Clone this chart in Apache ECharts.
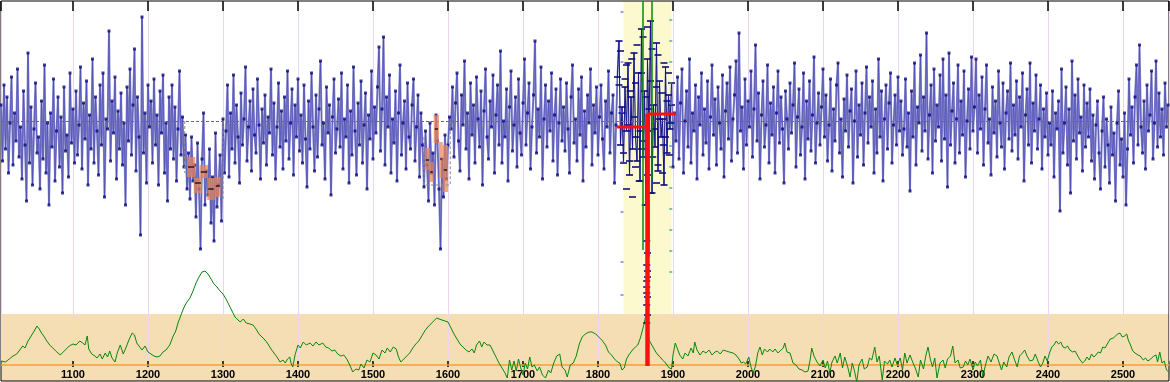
<!DOCTYPE html>
<html><head><meta charset="utf-8">
<script src="https://cdn.jsdelivr.net/npm/echarts@6/dist/echarts.min.js"></script>
<style>html,body{margin:0;padding:0;background:#fff}#c{width:1170px;height:382px}</style>
</head><body><div id="c"></div>
<script>
// ---- ring-width index, one value every 2 years from 1004 ----
const startYear = 1004, yearStep = 2;
const mainValues = [
108,80,118,86,112,74,99,122,78,104,90,126,82,97,71,115,88,60,134,79,107,68,96,119,84,
92,66,110,81,128,74,99,58,104,87,121,70,95,112,77,102,64,117,85,93,72,124,89,106,79,
115,83,98,127,76,109,91,120,68,103,86,131,79,112,95,73,118,88,124,62,101,96,145,80,110,
94,122,71,105,86,114,78,99,58,117,90,126,83,108,136,75,112,92,43,152,84,104,69,118,97,
110,79,121,88,103,68,115,94,123,74,99,60,112,86,118,81,107,70,96,125,83,102,77,93,66,
84,61,92,70,78,52,89,66,36,81,104,58,75,63,86,49,72,40,94,57,68,83,50,101,74,
95,118,72,104,86,123,79,108,92,69,114,88,101,127,80,97,110,75,116,93,84,121,98,71,106,
89,113,78,102,94,126,83,109,71,97,119,87,105,76,112,90,125,81,99,116,73,108,92,121,85,
103,79,118,91,67,110,86,124,97,75,113,82,106,130,88,99,71,117,94,108,63,102,121,84,96,
111,87,124,76,101,92,118,69,105,83,127,95,73,109,88,120,79,98,114,66,103,91,125,81,107,
94,117,137,85,106,142,78,112,97,123,74,101,89,115,70,104,128,83,99,110,76,119,92,86,108,
121,80,97,113,72,104,88,67,95,78,60,99,74,84,58,103,90,66,36,81,62,93,71,88,102,
96,117,82,109,124,90,75,113,98,130,86,104,71,119,93,108,79,122,101,87,115,68,105,126,92,
81,110,97,123,74,103,118,88,135,79,100,92,116,70,107,125,85,98,112,77,121,94,83,109,131,
88,104,119,76,97,113,140,84,106,92,127,71,101,118,87,110,95,124,80,103,116,73,99,121,90,
107,85,119,96,74,112,128,89,101,80,116,93,122,70,105,87,113,99,126,78,108,94,117,83,102,
118,91,76,110,97,125,84,104,113,69,98,122,140,88,107,79,117,95,129,73,112,86,134,92,80,
124,70,146,82,115,58,131,95,150,64,108,87,139,75,120,92,101,68,127,84,113,96,119,77,104,
90,122,81,109,126,74,100,115,87,131,79,104,95,118,71,112,98,124,83,106,89,120,76,102,128,
93,111,78,117,99,86,123,72,105,119,91,127,80,101,113,130,84,144,95,107,76,121,88,110,97,
125,82,106,138,90,114,71,103,120,87,98,128,79,109,93,117,74,104,125,89,112,96,69,115,101,
86,119,94,108,129,77,102,116,83,97,124,71,110,91,120,85,103,132,79,99,114,88,107,126,92,
113,80,98,121,75,106,90,118,129,84,101,72,111,95,123,87,105,116,69,100,125,82,108,93,119,
78,104,127,89,112,97,120,74,106,84,131,92,115,70,101,118,86,109,124,79,98,113,88,122,95,
110,83,96,121,87,104,65,115,92,129,78,107,99,133,85,112,95,144,81,103,118,74,126,90,108,
97,123,80,131,91,113,67,134,88,105,119,79,101,128,84,110,93,125,72,100,116,86,132,95,107,
131,84,113,96,122,78,106,128,89,101,73,117,94,110,82,125,99,87,119,76,104,115,91,129,85,
108,93,120,81,112,97,124,70,103,116,88,129,79,109,95,123,86,101,118,76,106,92,114,83,99,
88,115,72,104,96,110,55,126,84,99,117,78,106,64,130,90,113,81,121,94,102,75,118,87,109,
92,116,80,103,71,98,110,84,66,95,112,77,101,88,69,107,83,94,60,99,115,78,91,72,104,
58,86,121,93,107,79,112,128,88,138,97,84,110,76,118,95,103,125,81,99,130,87,114,92,106,83,119,97,108
];
const meanValue = 100;

// ---- overlapping samples in the matched window ----
const sampleYears = [1830,1838,1845,1852,1860,1866,1872,1880,1888,1894,1828,1836,1843,1850,1858,1864,1870,1878,1885,1892,1898,1832,1840,1848,1856,1862,1868,1875,1882,1890,1897,1834,1842,1850,1858,1866,1873,1880,1887,1895,1838,1846,1855,1863,1870,1878,1886,1865,1866,1865,1866,1865,1866,1865,1866,1865,1865,1866,1865];
const sampleValues = [135,128,131,138,142,147,136,133,129,124,118,121,115,119,124,112,120,117,114,110,108,104,98,102,95,90,106,96,101,92,99,84,80,77,86,73,82,78,88,83,66,62,70,58,64,69,74,40,34,28,22,17,12,8,25,20,14,3,-1];

// ---- window ruler marks ----
const rulerRightYear = 1897;
const rulerRightValues = [150.5,140,129.5,119,108.5,98,87.5,77,66.5,56,45.5,35,24.5];
const rulerLeftYear = 1832;
const rulerLeftValues = [154.5,129.5,104.5,79.5,54.5,29.5,13];

// ---- weak-ring boxes: [fromYear, toYear, low, high, mid] ----
const boxesA = [[1252,1263,72,82,77],[1269,1280,71.5,78,74.5],[1261,1272,64,71.5,69],[1279,1289,60.5,71.5,66],[1289,1297,62,72,67.5]];
const boxesB = [[1581,1588,89,103,96],[1569,1576,75.5,86.5,80.5],[1575,1581,69.5,79.5,74.5],[1588,1593,71.5,89.5,81],[1593,1600,64.5,88,75.5]];

// ---- match position ----
const matchYear = 1865.5;
const matchMeanBefore = 97, matchMeanAfter = 103.5;
const matchFrom = 1825, matchTo = 1904, matchBottom = -22.5;
const greenMarks = [[1860,160,35.5],[1872,160,70.5],[1867,100,32]];
const windowFrom = 1834, windowTo = 1898;
const overlapFrom = 1826, overlapTo = 1898;

// ---- correlation curve ----
const corrYears = [1004,1010,1015,1020,1025,1029,1033,1036,1040,1045,1049,1052,1055,1058,1061,1065,1069,1073,1077,1080,1083,1087,1091,1095,1100,1104,1109,1113,1116,1119,1121,1125,1129,1132,1136,1139,1143,1146,1149,1152,1156,1159,1163,1167,1171,1175,1179,1182,1185,1189,1192,1196,1200,1204,1208,1212,1216,1220,1224,1229,1233,1237,1240,1243,1247,1251,1256,1260,1264,1268,1272,1276,1280,1284,1288,1292,1296,1300,1304,1308,1312,1316,1320,1323,1327,1331,1336,1340,1344,1348,1352,1356,1360,1364,1368,1372,1376,1380,1383,1386,1389,1391,1393,1396,1400,1403,1407,1411,1416,1420,1424,1428,1433,1437,1441,1445,1449,1453,1457,1461,1465,1469,1473,1477,1481,1484,1488,1492,1496,1500,1504,1508,1512,1516,1519,1523,1527,1531,1534,1537,1541,1545,1549,1553,1557,1561,1565,1569,1573,1577,1581,1585,1588,1592,1596,1600,1604,1608,1612,1616,1620,1624,1628,1632,1635,1638,1642,1645,1648,1652,1656,1660,1664,1668,1672,1676,1679,1682,1685,1688,1691,1694,1697,1700,1703,1706,1709,1712,1715,1719,1722,1726,1730,1734,1737,1741,1745,1749,1752,1756,1759,1763,1767,1771,1775,1779,1783,1788,1792,1797,1801,1805,1810,1814,1818,1822,1826,1829,1832,1835,1838,1841,1844,1847,1850,1853,1856,1859,1861,1863,1864,1866,1868,1871,1874,1877,1880,1883,1886,1889,1892,1895,1898,1900,1903,1906,1909,1913,1916,1920,1924,1927,1929,1932,1936,1940,1944,1948,1952,1956,1959,1963,1967,1971,1975,1980,1984,1988,1991,1994,1997,2001,2004,2007,2010,2013,2016,2019,2022,2026,2029,2033,2036,2040,2044,2047,2049,2052,2056,2060,2064,2068,2072,2076,2080,2083,2085,2088,2092,2096,2100,2103,2106,2109,2112,2116,2119,2123,2126,2129,2133,2136,2139,2142,2145,2148,2152,2155,2159,2162,2165,2169,2172,2175,2179,2182,2186,2189,2192,2196,2199,2203,2206,2209,2212,2216,2219,2223,2227,2230,2234,2237,2240,2243,2246,2249,2252,2256,2260,2263,2266,2270,2273,2276,2280,2283,2287,2290,2293,2296,2300,2303,2306,2310,2313,2317,2320,2324,2328,2332,2335,2338,2341,2345,2348,2352,2355,2359,2362,2366,2369,2372,2376,2380,2383,2387,2390,2393,2396,2399,2402,2405,2408,2411,2414,2417,2420,2423,2426,2429,2433,2436,2439,2442,2446,2449,2452,2455,2458,2461,2464,2467,2470,2473,2476,2479,2483,2487,2490,2493,2496,2499,2502,2505,2507,2510,2513,2516,2520,2523,2527,2530,2533,2537,2541,2544,2546,2549,2552,2555,2558,2561];
const corrValues = [0.4,0.3,0.6,0.9,1.1,1.5,1.9,1.7,2.4,3.0,3.5,3.9,3.6,3.2,2.9,2.4,2.0,1.7,1.4,1.2,1.0,1.3,1.6,1.9,2.1,2.0,2.4,2.2,2.0,2.9,1.6,1.1,0.9,0.7,1.1,0.6,1.2,0.8,1.4,0.7,0.3,1.2,2.0,1.1,1.8,2.6,3.2,3.0,2.2,1.8,1.5,1.9,1.3,1.1,0.9,0.8,0.9,1.3,1.5,2.0,2.8,3.4,4.2,4.8,5.6,6.2,6.7,7.4,8.2,8.8,9.3,9.4,9.1,8.6,8.1,7.8,7.4,7.1,6.6,6.0,5.4,4.8,4.5,4.3,4.6,4.2,4.1,4.0,3.6,3.1,2.8,2.5,2.1,1.6,1.2,0.8,0.3,0.5,0.2,0.6,0.8,0.1,-0.2,1.0,2.0,1.7,2.3,2.0,2.2,1.9,2.3,2.0,2.2,1.8,1.7,1.4,1.5,1.1,0.9,1.0,0.6,0.0,-0.7,-0.4,-0.5,0.1,-0.3,0.5,0.3,1.2,1.0,0.6,1.5,1.2,1.7,1.3,1.8,1.6,0.8,0.3,0.6,0.9,1.2,1.7,2.1,2.4,2.9,3.4,3.8,4.1,4.4,4.7,4.6,4.5,4.4,4.3,3.7,3.1,2.6,2.1,1.8,1.5,1.3,1.6,1.2,2.0,2.4,1.8,2.3,2.0,2.0,1.4,0.8,0.2,-0.3,-0.8,-1.3,0.5,-0.5,0.4,-0.6,0.6,-0.3,-1.0,0.2,-0.4,0.8,-0.2,0.0,-0.6,-0.2,-1.0,-1.3,-0.5,-0.8,0.2,0.9,1.1,-0.2,-0.5,-1.2,0.0,0.2,0.9,2.1,2.8,3.1,3.3,3.3,3.1,2.8,2.5,2.0,1.3,1.0,0.6,0.3,0.2,-0.5,-0.3,0.6,1.0,1.3,1.6,1.8,2.0,2.6,3.4,4.0,4.7,5.0,3.3,2.5,2.1,1.7,1.3,1.0,0.8,0.5,0.3,0.0,-0.3,-0.4,1.0,2.2,1.6,1.0,0.6,1.2,0.9,1.7,1.2,2.3,1.5,1.0,1.4,1.2,1.5,1.0,1.3,1.4,1.1,1.5,1.4,1.3,1.2,1.0,0.6,0.2,0.3,0.1,0.8,-0.2,-0.8,-0.1,1.2,1.8,1.0,1.6,1.3,1.6,1.3,1.6,1.2,1.5,1.7,2.2,1.3,1.2,0.2,0.0,-0.4,-0.5,-0.7,-0.6,0.6,1.7,0.9,0.3,-0.1,0.5,-0.3,0.4,-0.8,0.3,0.9,0.2,1.2,-0.3,0.8,-0.2,-1.2,0.2,-0.6,-1.7,0.0,0.6,-0.4,-0.2,0.7,0.5,1.8,0.3,0.9,-1.5,0.4,0.1,0.5,-0.2,0.7,0.0,0.7,-0.5,1.2,0.2,1.0,0.4,-0.3,-1.2,0.5,-0.4,0.9,1.8,0.6,-0.2,0.7,-1.3,0.2,0.5,-0.3,0.6,0.9,1.9,0.2,0.5,-0.3,-0.2,0.4,0.0,0.6,-0.5,0.3,-0.1,0.5,-1.2,0.1,0.9,0.3,1.1,0.9,0.2,-0.5,0.3,-0.2,0.8,1.3,0.6,-0.2,0.9,1.2,1.5,0.9,0.4,0.5,1.1,0.3,-0.2,0.2,0.9,0.4,1.2,1.8,2.0,2.4,2.1,2.3,1.8,1.7,1.9,1.5,1.3,1.4,1.0,0.6,0.2,0.4,0.8,0.5,1.1,0.8,1.0,1.3,1.2,1.8,1.7,2.1,2.6,2.7,2.9,3.1,3.2,2.8,2.9,3.1,2.5,2.0,1.4,1.2,1.0,0.9,0.5,0.7,0.4,0.6,0.9,1.0,0.3,1.3,0.2,0.4,-0.5,-0.7];
const corrBandTop = 5.1;

// ---- axes ----
const xMin = 1004, xMax = 2561.33, tickStep = 100;
const yMin = -30, yMax = 160;
const cMin = -1.6, cMax = 36.4;

const mainData = mainValues.map((v, i) => [startYear + i * yearStep, v]);
const overlapData = mainData.filter(d => d[0] >= overlapFrom && d[0] <= overlapTo);
const sampleData = sampleYears.map((y, i) => [y, sampleValues[i]]);
const corrData = corrYears.map((y, i) => [y, corrValues[i]]);
const rulerR = rulerRightValues.map(v => [rulerRightYear, v]);
const rulerL = rulerLeftValues.map(v => [rulerLeftYear, v]);

function boxRender(params, api) {
  const a = api.coord([api.value(0), api.value(3)]);
  const b = api.coord([api.value(1), api.value(2)]);
  const m = api.coord([api.value(0), api.value(4)]);
  return { type: 'group', children: [
    { type: 'rect', shape: { x: a[0], y: a[1], width: b[0] - a[0], height: b[1] - a[1] },
      style: { fill: 'rgba(232,132,84,0.72)' } },
    { type: 'line', shape: { x1: a[0] + 1, y1: m[1], x2: b[0] - 1, y2: m[1] },
      style: { stroke: '#000', lineWidth: 1.2 } }
  ]};
}

const chart = echarts.init(document.getElementById('c'), null, { renderer: 'canvas' });
const axisCommon = { type: 'value', min: xMin, max: xMax, minInterval: tickStep, maxInterval: tickStep, splitNumber: 16 };
chart.setOption({
  animation: false,
  backgroundColor: '#ffffff',
  grid: [
    { left: 1, right: 1, top: 1, bottom: 1, show: true, borderColor: '#000', borderWidth: 1, backgroundColor: 'transparent' },
    { left: 1, right: 1, top: 1, bottom: 21, show: false }
  ],
  xAxis: [
    Object.assign({}, axisCommon, { gridIndex: 0, show: false }),
    Object.assign({}, axisCommon, {
      gridIndex: 1, position: 'bottom',
      axisLine: { show: false, onZero: false },
      axisTick: { show: true, length: 6, lineStyle: { color: '#000', width: 1.5 } },
      axisLabel: { show: true, color: '#000', fontSize: 11, fontWeight: 'bold', fontFamily: 'Liberation Sans, Arial, sans-serif', margin: 8, showMinLabel: false, showMaxLabel: false, formatter: v => String(v) },
      splitLine: { show: true, lineStyle: { color: '#efd4ef', width: 1 } }
    }),
    Object.assign({}, axisCommon, {
      gridIndex: 1, position: 'top',
      axisLine: { show: false, onZero: false },
      axisTick: { show: true, inside: true, length: 10, lineStyle: { color: '#000', width: 1.5 } },
      axisLabel: { show: false },
      splitLine: { show: false }
    })
  ],
  yAxis: [
    { gridIndex: 0, type: 'value', min: yMin, max: yMax, show: false },
    { gridIndex: 0, type: 'value', min: cMin, max: cMax, show: false },
    { gridIndex: 1, type: 'value', min: 0, max: 1, show: false }
  ],
  visualMap: [{
    type: 'piecewise', show: false, dimension: 0, seriesIndex: 1,
    pieces: [
      { lt: overlapFrom, color: '#8383cd' },
      { gte: overlapFrom, lte: overlapTo, color: 'rgba(0,0,0,0)' },
      { gt: overlapTo, color: '#8383cd' }
    ]
  }],
  series: [
    { // background bands
      type: 'line', data: [], xAxisIndex: 0, yAxisIndex: 1, z: -1, silent: true,
      markArea: { silent: true, z: -2, data: [
        [{ yAxis: corrBandTop, itemStyle: { color: '#f5deb3' } }, { yAxis: cMin }],
        [{ xAxis: windowFrom, yAxis: corrBandTop, itemStyle: { color: '#fdf9cf' } }, { xAxis: windowTo, yAxis: cMax }]
      ]},
      markLine: { silent: true, z: 2, symbol: 'none', label: { show: false },
        lineStyle: { color: '#f4a22e', width: 1.5, type: 'solid' }, data: [{ yAxis: 0 }] }
    },
    { // main index line, light body
      type: 'line', data: mainData, showSymbol: false, z: 3, silent: true,
      lineStyle: { width: 2 },
      markLine: { silent: true, z: 4, symbol: 'none', label: { show: false },
        lineStyle: { color: '#6a6a6a', width: 1, type: [3, 2] }, data: [{ yAxis: meanValue }] }
    },
    { // main index line, dark core
      type: 'line', data: mainData, showSymbol: false, z: 3, silent: true,
      lineStyle: { width: 0.5, color: '#3030a4', opacity: 0.85 }
    },
    { // overlap window, dark thin line
      type: 'line', data: overlapData, showSymbol: false, z: 3, silent: true,
      lineStyle: { width: 1, color: '#16168a' }
    },
    { // markers
      type: 'scatter', data: mainData, z: 4, silent: true, symbol: 'rect',
      symbolSize: v => (v[0] >= overlapFrom && v[0] <= overlapTo) ? [7, 2] : [3, 3],
      itemStyle: { color: '#0a0a7a' }
    },
    { // overlapping samples
      type: 'scatter', data: sampleData, z: 4, silent: true, symbol: 'rect', symbolSize: [7, 2],
      itemStyle: { color: '#0e0e80' }
    },
    { type: 'scatter', data: rulerR, z: 4, silent: true, symbol: 'rect', symbolSize: [3, 1.5], itemStyle: { color: '#2a9a9a' } },
    { type: 'scatter', data: rulerL, z: 4, silent: true, symbol: 'rect', symbolSize: [3, 1.5], itemStyle: { color: '#8a52d6' } },
    { type: 'custom', data: boxesA.concat(boxesB), renderItem: boxRender, z: 5, silent: true,
      encode: { x: [0, 1], y: [2, 3, 4] } },
    { type: 'lines', coordinateSystem: 'cartesian2d', polyline: true, z: 5, silent: true,
      lineStyle: { color: '#8a8a8a', width: 1, type: [3, 2], opacity: 1 },
      data: [
        { coords: [[1249, meanValue], [1249, 74]] },
        { coords: [[1300, meanValue], [1300, 60]] },
        { coords: [[1568, 92], [1568, 68], [1603, 68], [1603, 100]] }
      ] },
    { // green match marks
      type: 'lines', coordinateSystem: 'cartesian2d', z: 6, silent: true,
      lineStyle: { color: '#0a8a0a', width: 1.5, opacity: 1 },
      data: greenMarks.map(g => ({ coords: [[g[0], g[1]], [g[0], g[2]]] }))
    },
    { // red step
      type: 'lines', coordinateSystem: 'cartesian2d', polyline: true, z: 7, silent: true,
      lineStyle: { color: '#ff1010', width: 3, opacity: 1 },
      data: [
        { coords: [[matchFrom, matchMeanBefore], [matchYear, matchMeanBefore]] },
        { coords: [[matchYear, matchMeanAfter], [matchTo, matchMeanAfter]] }
      ]
    },
    { // red bar
      type: 'lines', coordinateSystem: 'cartesian2d', z: 7, silent: true,
      lineStyle: { color: '#ff1010', width: 4.5, opacity: 1 },
      data: [{ coords: [[matchYear, matchMeanAfter], [matchYear, matchBottom]] }]
    },
    { // correlation
      type: 'line', data: corrData, xAxisIndex: 0, yAxisIndex: 1, showSymbol: false, z: 3, silent: true,
      lineStyle: { color: '#0a870a', width: 1 }
    }
  ]
});
</script>
</body></html>
